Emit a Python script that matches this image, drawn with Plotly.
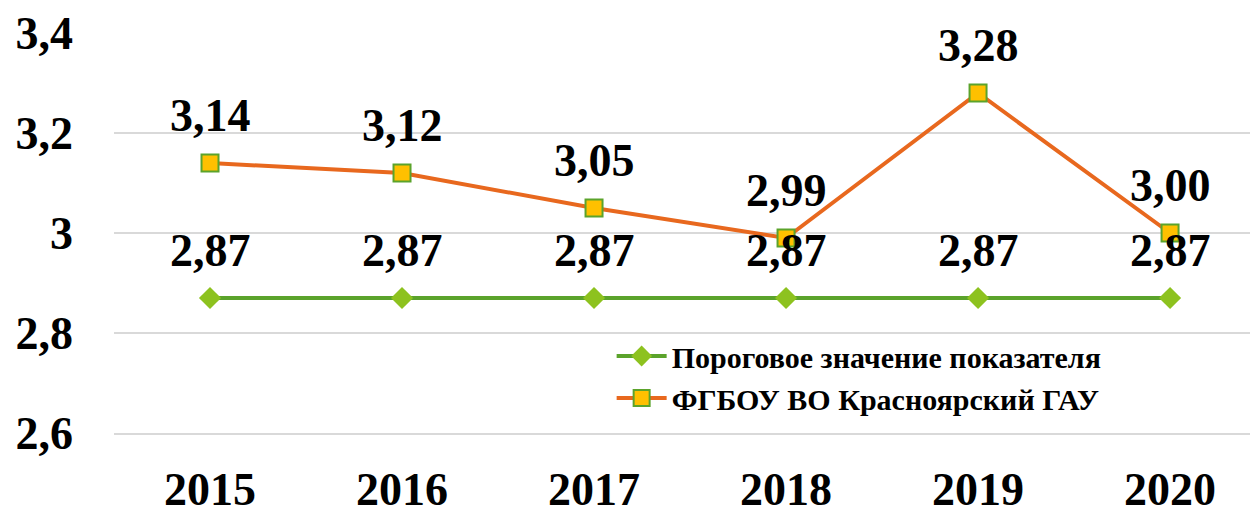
import plotly.graph_objects as go

years = ["2015", "2016", "2017", "2018", "2019", "2020"]
threshold = [2.87, 2.87, 2.87, 2.87, 2.87, 2.87]
university = [3.14, 3.12, 3.05, 2.99, 3.28, 3.00]
threshold_name = "Пороговое значение показателя"
university_name = "ФГБОУ ВО Красноярский ГАУ"

def fmt(v):
    return f"{v:.2f}".replace(".", ",")

font_family = "Liberation Serif"
big = 46

fig = go.Figure()
fig.add_trace(go.Scatter(
    x=years, y=threshold, name=threshold_name,
    mode="lines+markers",
    line=dict(color="#5BA32B", width=4),
    marker=dict(symbol="diamond", size=17, color="#8DC21F", line=dict(width=0)),
))
fig.add_trace(go.Scatter(
    x=years, y=university, name=university_name,
    mode="lines+markers",
    line=dict(color="#E8681E", width=4),
    marker=dict(symbol="square", size=17, color="#FFC000", line=dict(color="#5BA32B", width=2)),
))

for series in (threshold, university):
    for i, v in enumerate(series):
        fig.add_annotation(
            x=i, y=v, xref="x", yref="y", text=fmt(v), showarrow=False, yshift=48,
            font=dict(family=font_family, size=big, color="black", weight="bold"),
        )

# the page body adds an 8px offset, so the figure is 8px smaller
fig.update_layout(
    width=1250, height=500,
    margin=dict(l=106, r=0, t=25, b=75),
    paper_bgcolor="white", plot_bgcolor="white",
    separators=", ",
    font=dict(family=font_family, color="black"),
    showlegend=True,
    legend=dict(
        x=0.435, y=0.14, xanchor="left", yanchor="middle",
        font=dict(family=font_family, size=30, color="black", weight="bold"),
        bgcolor="rgba(0,0,0,0)", itemwidth=50, tracegroupgap=0,
    ),
)
fig.update_xaxes(
    type="category", range=[-0.5, 5.458], automargin=False,
    showgrid=False, showline=True, linecolor="#D9D9D9", linewidth=1.5,
    zeroline=False, ticks="",
    tickfont=dict(family=font_family, size=big, color="black", weight="bold"),
    ticklabelstandoff=15,
)
fig.update_yaxes(
    range=[2.6, 3.4], dtick=0.2, tick0=2.6, automargin=False,
    showgrid=True, gridcolor="#D9D9D9", gridwidth=1.5,
    zeroline=False, showline=False, ticks="",
    tickfont=dict(family=font_family, size=big, color="black", weight="bold"),
    tickformat="~g", ticklabelstandoff=40,
)

fig.write_html("out.html")
